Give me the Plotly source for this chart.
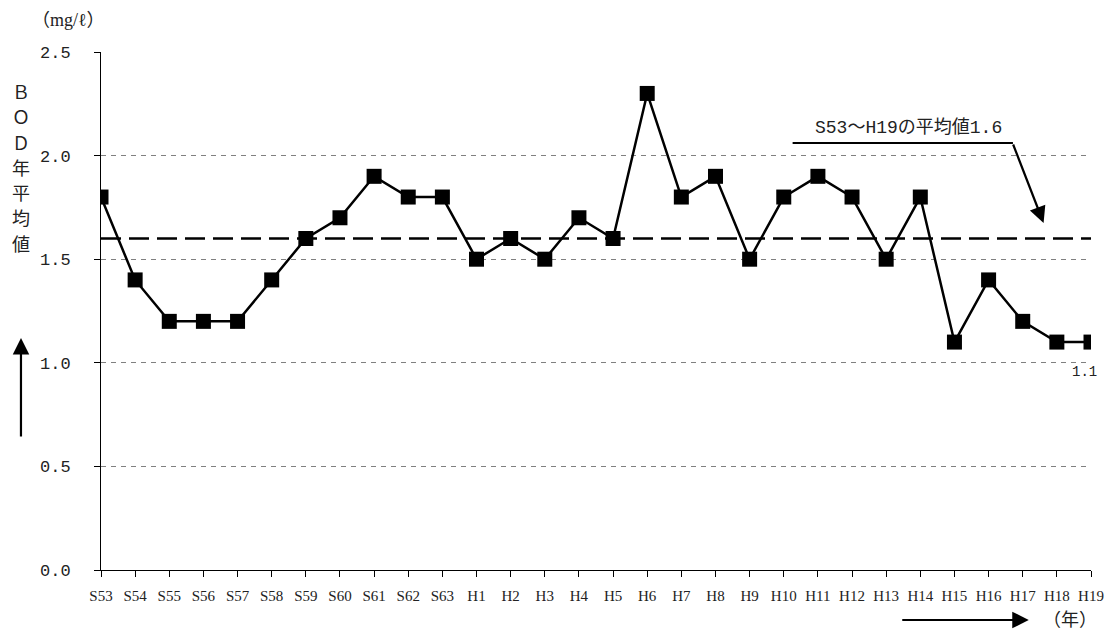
import plotly.graph_objects as go

years = ["S53", "S54", "S55", "S56", "S57", "S58", "S59", "S60", "S61", "S62", "S63",
         "H1", "H2", "H3", "H4", "H5", "H6", "H7", "H8", "H9", "H10", "H11", "H12",
         "H13", "H14", "H15", "H16", "H17", "H18", "H19"]
bod = [1.8, 1.4, 1.2, 1.2, 1.2, 1.4, 1.6, 1.7, 1.9, 1.8, 1.8,
       1.5, 1.6, 1.5, 1.7, 1.6, 2.3, 1.8, 1.9, 1.5, 1.8, 1.9, 1.8,
       1.5, 1.8, 1.1, 1.4, 1.2, 1.1, 1.1]
mean_val = 1.6
y_ticks = [0.0, 0.5, 1.0, 1.5, 2.0, 2.5]
y_title_chars = ["Ｂ", "Ｏ", "Ｄ", "年", "平", "均", "値"]

SERIF = "'Liberation Serif', 'Noto Sans CJK JP', serif"
MONO = "'Liberation Mono', 'Noto Sans CJK JP', monospace"
TXT = "#222"

fig = go.Figure()

fig.add_trace(go.Scatter(
    x=years, y=bod, mode="lines+markers",
    line=dict(color="black", width=2.5),
    marker=dict(symbol="square", size=15, color="black"),
    showlegend=False))

# mean dashed line
fig.add_trace(go.Scatter(
    x=[years[0], years[-1]], y=[mean_val, mean_val], mode="lines",
    line=dict(color="black", width=2.5, dash="20px,8px"), showlegend=False,
    hoverinfo="skip"))

n = len(years)
fig.update_layout(
    width=1108, height=626,
    margin=dict(l=93, r=13, t=44, b=64),
    paper_bgcolor="white", plot_bgcolor="white",
    font=dict(family=SERIF, color=TXT, size=14),
    xaxis=dict(
        type="category", categoryorder="array", categoryarray=years,
        range=[0, n - 1], showgrid=False,
        showline=True, linecolor="black", linewidth=1,
        ticks="outside", ticklen=6, tickcolor="black",
        tickfont=dict(size=15, family=SERIF, color=TXT), ticklabelstandoff=6,
        zeroline=False),
    yaxis=dict(
        range=[0, 2.5], tickvals=y_ticks,
        ticktext=[f"{v:.1f}" for v in y_ticks],
        showgrid=True, gridcolor="#808080", gridwidth=1, griddash="5px,5px",
        showline=True, linecolor="black", linewidth=1,
        ticks="outside", ticklen=6, tickcolor="black",
        tickfont=dict(size=17, family=MONO, color=TXT), ticklabelstandoff=20,
        zeroline=False),
)


def px_x(px):
    return (px - 101) / 1002


def px_y(py):
    return (570 - py) / 518


def label(text, px, py, size, family=SERIF):
    return dict(text=text, x=px_x(px), y=px_y(py), xref="paper", yref="paper",
                xanchor="center", yanchor="middle", showarrow=False,
                font=dict(size=size, family=family, color=TXT))


def arrow(px, py, ax, ay):
    return dict(text="", x=px_x(px), y=px_y(py), xref="paper", yref="paper",
                showarrow=True, arrowhead=2, arrowsize=1.5, arrowwidth=2.2,
                arrowcolor="black", ax=ax, ay=ay, standoff=0)


annotations = [
    label("（mg/ℓ）", 68, 20, 18),
    arrow(20, 338, 0, 100),
    arrow(1040, 620, -128, 0),
    label("（年）", 1082, 620, 18),
    label("S53〜H19の平均値1.6", 918, 127, 18, MONO),
    arrow(1055, 223, -31, -80),
    dict(text=f"{bod[-1]:.1f}", x=years[-1], y=bod[-1], showarrow=False,
         xanchor="center", yanchor="middle",
         yshift=-30, xshift=-7, font=dict(size=14, family=MONO, color=TXT)),
]
for i, ch in enumerate(y_title_chars):
    annotations.append(label(ch, 20, 93 + i * 25.3, 18))
fig.update_layout(annotations=annotations)

fig.add_shape(type="line", xref="paper", yref="paper",
              x0=px_x(801), x1=px_x(1024), y0=px_y(143), y1=px_y(143),
              line=dict(color="black", width=2.2))

fig.write_html("out.html")
